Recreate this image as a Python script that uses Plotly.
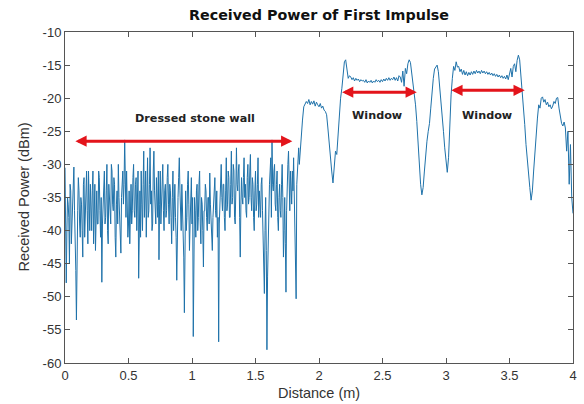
import numpy as np
import plotly.graph_objects as go

power_dbm = [
    # 0.00 - 0.09
    -30.5, -47.9, -35.0, -38.0, -33.0, -42.0, -36.0, -30.4, -40.0, -53.5,
    # 0.10
    -37, -34, -41, -36, -44, -32, -38, -31, -42, -35,
    # 0.20
    -33, -40, -31, -37, -43, -34, -39, -32, -41, -47.8,
    # 0.30
    -36, -31, -38, -30, -42, -35, -39, -31, -37, -33,
    # 0.40
    -44, -34, -30, -38, -43.4, -32, -36, -26.3, -38, -35,
    # 0.50
    -39, -42, -33, -37, -30, -38, -32, -36, -47.2, -34,
    # 0.60
    -31, -40, -28, -35, -41, -29, -37, -27.5, -34, -39,
    # 0.70
    -28, -36, -32, -38, -44.4, -31, -35, -30, -40, -33,
    # 0.80
    -37, -30, -39, -34, -42, -31, -36, -38, -47.5, -35,
    # 0.90
    -29, -37, -33, -40, -52.4, -34, -38, -31, -43, -36,
    # 1.00
    -39, -56, -35, -41, -33, -38, -31, -42, -36, -45.5,
    # 1.10
    -37, -34, -40, -35, -31.3, -39, -43, -36, -32, -38,
    # 1.20
    -41, -56.8, -35, -30, -37, -33, -40, -29, -36, -32,
    # 1.30
    -38, -28, -35, -31, -39, -27.5, -34, -30, -44, -32,
    # 1.40
    -36, -29, -33, -38, -30, -35, -28.5, -37, -33, -40,
    # 1.50
    -31, -36, -29, -34, -38, -32, -41, -49.5, -35, -58,
    # 1.60
    -42, -33, -29, -26.3, -34, -30, -37, -31, -40, -33,
    # 1.70
    -38, -30, -44, -35, -49.3, -32, -28, -37, -33, -31,
    # 1.80
    -29, -36, -50.3, -30, -27.5, -28.5, -25, -23.3, -21.3, -21,
    # 1.90
    -20.5, -20.8, -20.2, -21, -20.5, -20.9, -20.4, -21.2, -20.6, -21,
    # 2.00
    -21.3, -20.8, -21.5, -21.2, -21.8, -22.0, -22.5, -24.5, -27.0, -29.5,
    # 2.10
    -31.0, -32.8, -30.0, -28.0, -28.5, -25.0, -22.0, -20.0, -18.5, -16.5,
    # 2.20
    -14.5, -14.2, -15.5, -17.0, -16.6, -16.8, -17.2, -16.9, -17.4, -17.0,
    # 2.30
    -17.3, -17.1, -17.5, -17.2, -17.4, -17.3, -17.6, -17.2, -17.7, -17.4,
    # 2.40
    -17.6, -17.3, -17.7, -17.4, -17.6, -17.2, -17.5, -17.3, -17.6, -17.2,
    # 2.50
    -17.5, -17.1, -17.4, -17.0, -17.3, -16.9, -17.3, -17.0, -17.2, -16.8,
    # 2.60
    -17.3, -16.9, -17.4, -16.6, -16.8, -17.6, -15.9, -18.2, -15.5, -16.3,
    # 2.70
    -14.8, -14.2, -14.6, -16.0, -18.0, -19.5, -21.0, -23.5, -27.0, -30.0,
    # 2.80
    -33.0, -34.6, -33.5, -31.0, -28.5, -26.5, -25.0, -23.8, -21.5, -19.0,
    # 2.90
    -17.0, -15.6, -15.2, -15.0, -16.0, -18.0, -20.0, -22.5, -25.0, -27.5,
    # 3.00
    -29.5, -31.2, -29.0, -24.0, -19.5, -17.0, -15.2, -15.8, -14.5, -15.3,
    # 3.10
    -15.2, -16.0, -15.6, -16.4, -15.8, -16.5, -16.0, -16.6, -16.1, -16.5,
    # 3.20
    -16.0, -16.4, -15.9, -16.3, -15.8, -16.2, -15.9, -16.3, -15.8, -16.2,
    # 3.30
    -15.9, -16.3, -16.0, -16.4, -16.1, -16.5, -16.2, -16.6, -16.3, -16.7,
    # 3.40
    -16.4, -16.8, -16.5, -16.9, -16.6, -17.0, -16.7, -17.1, -16.5, -17.2,
    # 3.50
    -16.3, -15.5, -16.8, -15.2, -14.8, -16.0, -14.3, -13.5, -14.2, -16.5,
    # 3.60
    -18.5, -21.0, -24.0, -27.0, -29.5, -31.5, -33.5, -35.4, -34.0, -31.0,
    # 3.70
    -28.0, -25.0, -23.0, -21.0, -21.5, -20.0, -19.8, -20.6, -20.2, -21.0,
    # 3.80
    -20.6, -21.3, -21.0, -21.6, -21.2, -20.5, -20.8, -20.0, -19.9, -21.5,
    # 3.90
    -23.0, -23.8, -24.2, -23.6, -24.5, -28.0, -25.0, -33.0, -27.0, -35.0,
    # 4.00
    -37.4,
]

# Extra readings in the dense wall region, at the half-steps 0.005, 0.015, ... 1.845 m
wall_mid_dbm = [
    -44, -40, -36, -45, -34, -39, -32, -37, -46, -41,
    -32, -39, -35, -40, -33, -41, -34, -37, -31, -40,
    -38, -34, -42, -33, -36, -39, -31, -37, -35, -39,
    -33, -39, -34, -40, -33, -37, -30, -36, -32, -41,
    -36, -39, -35, -40, -35, -31, -33, -37, -31, -41,
    -34, -36, -39, -32, -37, -33, -40, -31, -38, -41,
    -36, -33, -38, -31, -34, -38, -33, -36, -40, -31,
    -34, -39, -35, -31, -36, -39, -33, -37, -34, -38,
    -32, -36, -33, -38, -35, -40, -33, -41, -38, -32,
    -34, -40, -36, -44, -37, -40, -33, -36, -39, -32,
    -35, -42, -37, -34, -40, -33, -39, -35, -40, -37,
    -33, -38, -35, -39, -36, -41, -38, -33, -37, -34,
    -38, -39, -32, -35, -33, -38, -34, -37, -31, -38,
    -33, -36, -30, -38, -34, -33, -31, -38, -36, -35,
    -32, -35, -37, -32, -36, -31, -35, -32, -38, -34,
    -37, -33, -38, -36, -33, -37, -44, -40, -43, -47,
    -35, -31, -38, -33, -31, -36, -33, -38, -35, -37,
    -33, -35, -40, -42, -37, -30, -34, -31, -36, -34,
    -34, -45, -33, -29, -30,
]

x_ticks = [0, 0.5, 1, 1.5, 2, 2.5, 3, 3.5, 4]
x_tick_labels = ["0", "0.5", "1", "1.5", "2", "2.5", "3", "3.5", "4"]
y_ticks = [-60, -55, -50, -45, -40, -35, -30, -25, -20, -15, -10]
y_tick_labels = [str(v) for v in y_ticks]

# Region markers: (label, start m, end m, arrow level dBm, label x, label y)
regions = [
    ("Dressed stone wall", 0.07, 1.79, -26.5, 1.02, -23.1),
    ("Window", 2.17, 2.77, -19.1, 2.46, -22.6),
    ("Window", 3.03, 3.62, -18.8, 3.32, -22.6),
]

# merge the main samples with the half-step wall readings
dist_all, pow_all = [], []
for i, v in enumerate(power_dbm):
    dist_all.append(round(i * 0.01, 3))
    pow_all.append(v)
    if i < len(wall_mid_dbm):
        dist_all.append(round(i * 0.01 + 0.005, 3))
        pow_all.append(wall_mid_dbm[i])

fig = go.Figure()
fig.add_trace(go.Scatter(
    x=dist_all, y=pow_all, mode="lines",
    line=dict(color="#1f72aa", width=1),
    showlegend=False, hoverinfo="skip",
))

annotations = []
for label, x0, x1, yl, lx, ly in regions:
    annotations.append(dict(
        x=x1, y=yl, ax=x0, ay=yl, xref="x", yref="y", axref="x", ayref="y",
        text="", showarrow=True, arrowhead=2, arrowside="end+start",
        arrowsize=0.75, arrowwidth=3, arrowcolor="#e3141b",
    ))
    annotations.append(dict(
        x=lx, y=ly, xref="x", yref="y", text="<b>" + label + "</b>",
        showarrow=False, font=dict(family="DejaVu Sans", size=11.2, color="#222"),
    ))

axis_font = dict(family="Liberation Sans", size=14.5, color="#333")
annotations.append(dict(
    x=0.5, y=(363 - 393) / 331, xref="paper", yref="paper", text="Distance (m)",
    showarrow=False, font=axis_font, xanchor="center", yanchor="middle",
))
annotations.append(dict(
    x=(23 - 65) / 508, y=0.5, xref="paper", yref="paper", text="Received Power (dBm)",
    showarrow=False, font=axis_font, textangle=-90, xanchor="center", yanchor="middle",
))

fig.update_layout(
    width=584, height=404,
    margin=dict(l=65, r=11, t=32, b=41, autoexpand=False),
    paper_bgcolor="white", plot_bgcolor="white",
    title=dict(
        text="<b>Received Power of First Impulse</b>",
        x=(65 + 573) / 2 / 584, xanchor="center",
        y=1 - 15 / 404, yanchor="middle", yref="container",
        font=dict(family="DejaVu Sans", size=14.3, color="#111"),
    ),
    xaxis=dict(
        range=[0, 4], tickvals=x_ticks, ticktext=x_tick_labels, automargin=False,
        ticks="inside", ticklen=5, tickcolor="#555", mirror="ticks",
        showline=True, linecolor="#555", linewidth=1, showgrid=False, zeroline=False,
        tickfont=dict(family="Liberation Sans", size=13, color="#333"),
    ),
    yaxis=dict(
        range=[-60, -10], tickvals=y_ticks, ticktext=y_tick_labels, automargin=False,
        ticks="inside", ticklen=5, tickcolor="#555", mirror="ticks",
        showline=True, linecolor="#555", linewidth=1, showgrid=False, zeroline=False,
        tickfont=dict(family="Liberation Sans", size=13, color="#333"),
    ),
    annotations=annotations,
)

fig.write_html(
    "out.html",
    config={"displayModeBar": False},
    post_script="document.body.style.margin='0';document.body.style.overflow='hidden';",
)
